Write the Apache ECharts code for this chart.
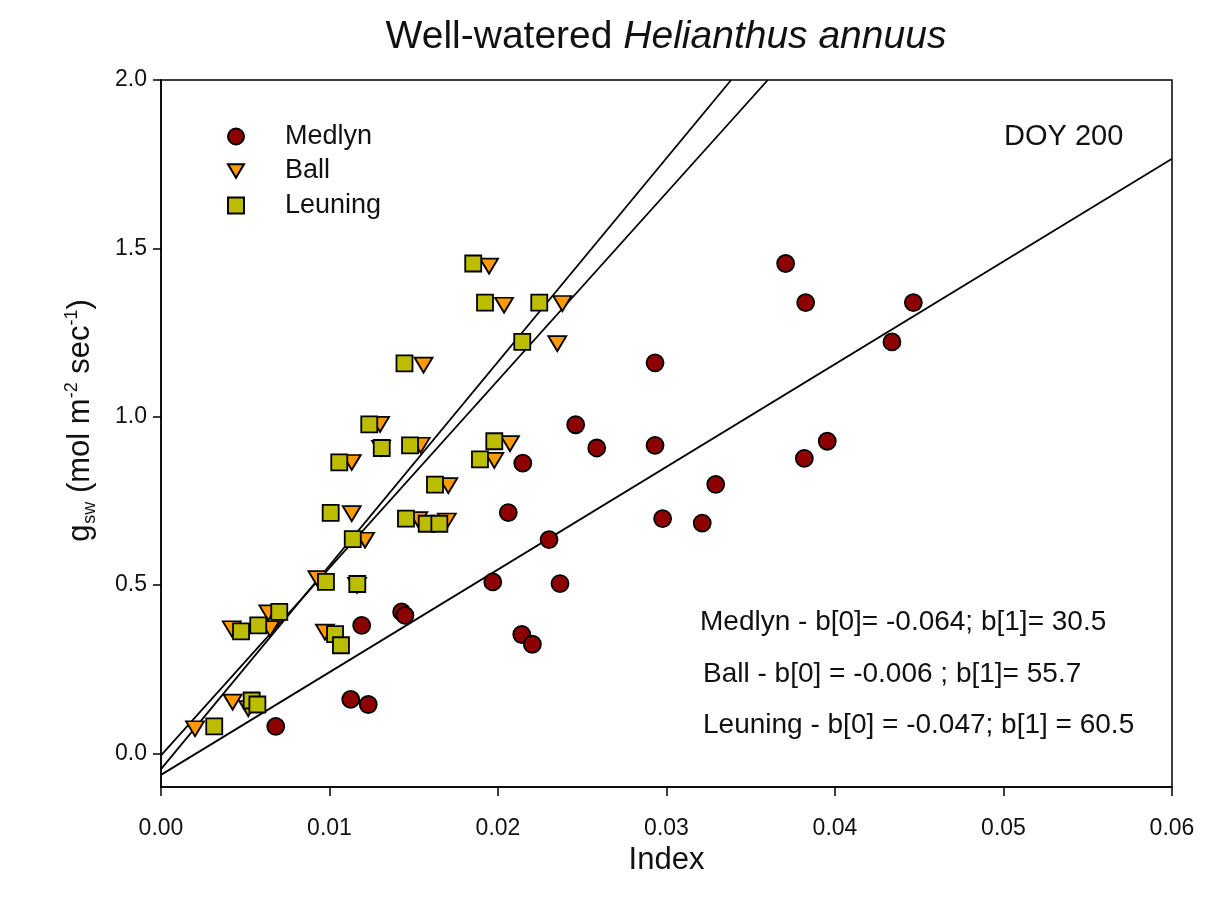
<!DOCTYPE html>
<html>
<head>
<meta charset="utf-8">
<title>Well-watered Helianthus annuus</title>
<script src="https://cdn.jsdelivr.net/npm/echarts@6/dist/echarts.min.js"></script>
<style>
  html, body { margin: 0; padding: 0; background: #fff; }
  #chart { width: 1210px; height: 908px; }
</style>
</head>
<body>
<div id="chart"></div>
<script>
// Stomatal conductance (g_sw) against each model's index, DOY 200
const medlynIndex = [0.00681, 0.01126, 0.0123, 0.01191, 0.01428, 0.01448, 0.01969, 0.02141, 0.02204, 0.02303, 0.02368, 0.02061, 0.02147, 0.02461, 0.02586, 0.02932, 0.02932, 0.02977, 0.03212, 0.03292, 0.03707, 0.03818, 0.03826, 0.03954, 0.04338, 0.04465];
const medlynGsw   = [0.080, 0.160, 0.145, 0.380, 0.420, 0.410, 0.509, 0.353, 0.324, 0.635, 0.504, 0.715, 0.862, 0.976, 0.907, 1.160, 0.915, 0.697, 0.684, 0.799, 1.455, 0.876, 1.339, 0.927, 1.222, 1.339];

const ballIndex = [0.01947, 0.02036, 0.02382, 0.02352, 0.01558, 0.01300, 0.01541, 0.02071, 0.01306, 0.01978, 0.01132, 0.01705, 0.01132, 0.01527, 0.01696, 0.01211, 0.00928, 0.01163, 0.00637, 0.00647, 0.00420, 0.00973, 0.00425, 0.00518, 0.00202];
const ballGsw   = [1.447, 1.331, 1.336, 1.217, 1.153, 0.977, 0.915, 0.920, 0.906, 0.870, 0.864, 0.795, 0.712, 0.694, 0.690, 0.633, 0.519, 0.499, 0.417, 0.370, 0.370, 0.360, 0.152, 0.133, 0.073];

const leuningIndex = [0.01853, 0.01923, 0.02245, 0.02144, 0.01445, 0.01236, 0.01310, 0.01478, 0.01978, 0.01058, 0.01893, 0.01626, 0.01007, 0.01454, 0.01577, 0.01652, 0.01138, 0.00979, 0.01165, 0.00702, 0.00577, 0.00475, 0.01033, 0.01068, 0.00538, 0.00572, 0.00316];
const leuningGsw   = [1.455, 1.339, 1.339, 1.222, 1.158, 0.977, 0.907, 0.915, 0.927, 0.864, 0.873, 0.798, 0.714, 0.697, 0.682, 0.682, 0.636, 0.509, 0.503, 0.420, 0.380, 0.362, 0.354, 0.321, 0.157, 0.145, 0.080];

// Linear fits: g_sw = b[0] + b[1] * index
const modelNames = ['Medlyn', 'Ball', 'Leuning'];
const fitB0 = [-0.064, -0.006, -0.047];
const fitB1 = [30.5, 55.7, 60.5];

const xTicks = [0, 0.01, 0.02, 0.03, 0.04, 0.05, 0.06];
const yTicks = [0, 0.5, 1.0, 1.5, 2.0];

const X_MIN = 0, X_MAX = 0.06, Y_MIN = -0.1, Y_MAX = 2.0;
const FONT = '"Liberation Sans", Arial, Helvetica, sans-serif';
const INK = '#111';

function pairs(xs, ys) { return xs.map((x, i) => [x, ys[i]]); }

function fitLine(k) {
  const b0 = fitB0[k], b1 = fitB1[k];
  const xEnd = Math.min(X_MAX, (Y_MAX - b0) / b1);
  return [[X_MIN, b0 + b1 * X_MIN], [xEnd, b0 + b1 * xEnd]];
}

const eqLabels = [
  `Medlyn - b[0]= ${fitB0[0]}; b[1]= ${fitB1[0]}`,
  `Ball - b[0] = ${fitB0[1]} ; b[1]= ${fitB1[1]}`,
  `Leuning - b[0] = ${fitB0[2]}; b[1] = ${fitB1[2]}`
];

const downTriangle = 'path://M0,0 L20,0 L10,17 Z';
const markerBorder = { borderColor: '#000', borderWidth: 1.8 };

const chart = echarts.init(document.getElementById('chart'), null, { renderer: 'canvas' });

const lineSeries = [0, 1, 2].map(k => ({
  name: 'fit-' + modelNames[k],
  type: 'line',
  data: fitLine(k),
  symbol: 'none',
  silent: true,
  z: 1,
  lineStyle: { color: '#000', width: 1.8 }
}));

chart.setOption({
  animation: false,
  backgroundColor: '#fff',
  textStyle: { fontFamily: FONT },
  title: {
    text: '{n|Well-watered }{i|Helianthus annuus}',
    left: 661,
    top: 13,
    textAlign: 'center',
    textStyle: {
      fontWeight: 'normal',
      rich: {
        n: { fontSize: 39, fontFamily: FONT, fontWeight: 'normal', color: INK },
        i: { fontSize: 39, fontFamily: FONT, fontWeight: 'normal', fontStyle: 'italic', color: INK }
      }
    }
  },
  legend: {
    orient: 'vertical',
    left: 222,
    top: 118,
    itemWidth: 16,
    itemHeight: 16,
    itemGap: 7.5,
    data: modelNames,
    textStyle: { fontSize: 27, color: INK, fontFamily: FONT, padding: [0, 0, 0, 36], lineHeight: 27 }
  },
  grid: {
    left: 161, right: 38, top: 80, bottom: 121,
    show: true, borderColor: '#000', borderWidth: 1.5, backgroundColor: '#fff'
  },
  xAxis: {
    type: 'value',
    min: X_MIN, max: X_MAX, interval: 0.01,
    name: 'Index',
    nameLocation: 'middle',
    nameGap: 58,
    nameTextStyle: { fontSize: 31, color: INK, fontFamily: FONT },
    axisLine: { show: true, onZero: false, lineStyle: { color: '#000', width: 1.5 } },
    axisTick: { show: true, inside: false, length: 9, lineStyle: { color: '#000', width: 1.5 }, customValues: xTicks },
    axisLabel: { margin: 30, fontSize: 23, color: INK, fontFamily: FONT, customValues: xTicks,
      formatter: v => v.toFixed(2) },
    splitLine: { show: false }
  },
  yAxis: {
    type: 'value',
    min: Y_MIN, max: Y_MAX,
    name: '{g|g}{sub|sw}{t| (mol m}{sup|-2}{t| sec}{sup|-1}{t|)}',
    nameLocation: 'middle',
    nameRotate: 90,
    nameGap: 60,
    nameTextStyle: {
      padding: [0, 0, 0, 26],
      rich: {
        g: { fontSize: 31, color: INK, fontFamily: FONT, lineHeight: 42, verticalAlign: 'middle' },
        t: { fontSize: 31, color: INK, fontFamily: FONT, lineHeight: 42, verticalAlign: 'middle' },
        sub: { fontSize: 18, color: INK, fontFamily: FONT, lineHeight: 42, verticalAlign: 'bottom', padding: [0, 0, 2, 1] },
        sup: { fontSize: 18, color: INK, fontFamily: FONT, lineHeight: 42, verticalAlign: 'top', padding: [4, 0, 0, 0] }
      }
    },
    axisLine: { show: true, onZero: false, lineStyle: { color: '#000', width: 1.5 } },
    axisTick: { show: true, inside: false, length: 8, lineStyle: { color: '#000', width: 1.5 }, customValues: yTicks },
    axisLabel: { margin: 14, fontSize: 23, color: INK, fontFamily: FONT, customValues: yTicks,
      formatter: v => v.toFixed(1) },
    splitLine: { show: false }
  },
  graphic: [
    { type: 'text', left: 1004, top: 122, silent: true,
      style: { text: 'DOY 200', fontSize: 29, fill: INK, fontFamily: FONT } },
    { type: 'text', left: 700, top: 608, silent: true,
      style: { text: eqLabels[0], fontSize: 28, fill: INK, fontFamily: FONT } },
    { type: 'text', left: 703, top: 660, silent: true,
      style: { text: eqLabels[1], fontSize: 28, fill: INK, fontFamily: FONT } },
    { type: 'text', left: 703, top: 711, silent: true,
      style: { text: eqLabels[2], fontSize: 28, fill: INK, fontFamily: FONT } }
  ],
  series: [
    ...lineSeries,
    {
      name: 'Medlyn', type: 'scatter', z: 3,
      data: pairs(medlynIndex, medlynGsw),
      symbol: 'circle', symbolSize: 17,
      itemStyle: Object.assign({ color: '#8E0000', opacity: 1 }, markerBorder)
    },
    {
      name: 'Ball', type: 'scatter', z: 3,
      data: pairs(ballIndex, ballGsw),
      symbol: downTriangle, symbolSize: [18, 15],
      itemStyle: Object.assign({ color: '#FF9A00', opacity: 1 }, markerBorder)
    },
    {
      name: 'Leuning', type: 'scatter', z: 3,
      data: pairs(leuningIndex, leuningGsw),
      symbol: 'rect', symbolSize: 16,
      itemStyle: Object.assign({ color: '#BDBD00', opacity: 1 }, markerBorder)
    }
  ]
});
</script>
</body>
</html>
